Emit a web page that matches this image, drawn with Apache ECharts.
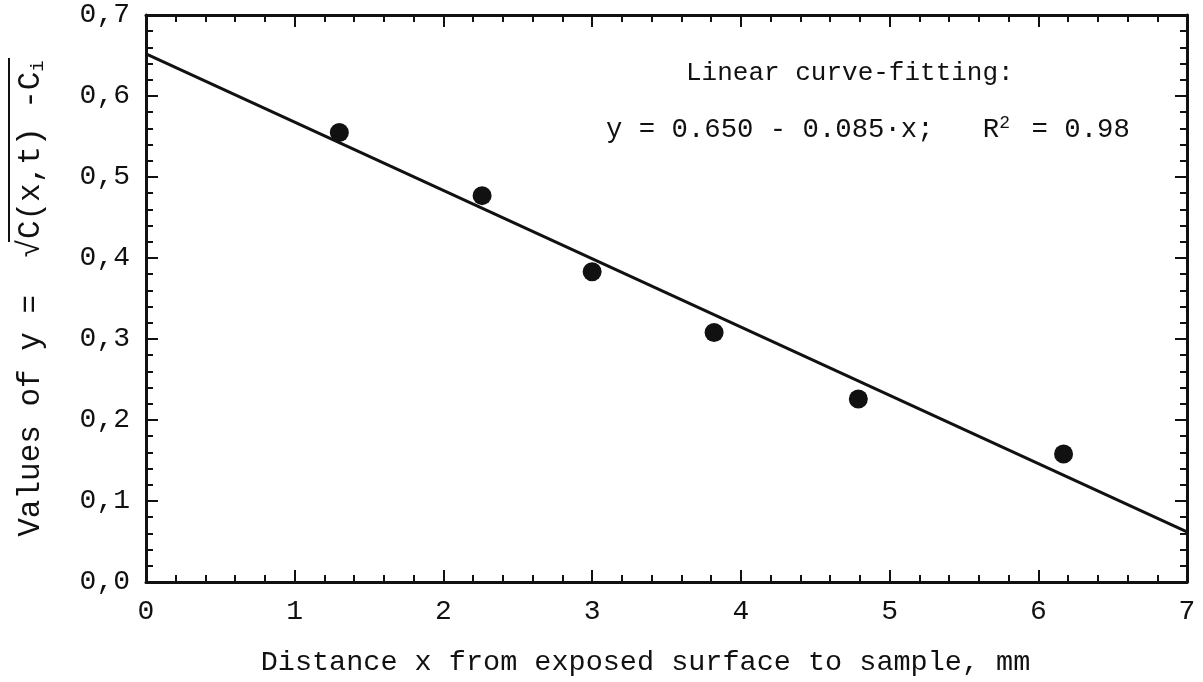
<!DOCTYPE html>
<html>
<head>
<meta charset="utf-8">
<script src="https://cdn.jsdelivr.net/npm/echarts@6/dist/echarts.min.js"></script>
<style>
html, body { margin: 0; padding: 0; background: #fff; }
#chart { width: 1203px; height: 682px; }
</style>
</head>
<body>
<div id="chart"></div>
<script>
// measured points
var pointX = [1.30, 2.26, 3.00, 3.82, 4.79, 6.17];
var pointY = [0.555, 0.477, 0.383, 0.308, 0.226, 0.158];
// fitted line ends
var fitX = [0, 7];
var fitY = [0.652, 0.062];
var yTicks = ['0,0', '0,1', '0,2', '0,3', '0,4', '0,5', '0,6', '0,7'];

var FONT = '"Liberation Mono", "DejaVu Sans Mono", monospace';
var INK = '#111';

function pairs(xs, ys) {
    var out = [];
    for (var i = 0; i < xs.length; i++) out.push([xs[i], ys[i]]);
    return out;
}

var tickStyle = { show: true, inside: true, length: 12, lineStyle: { color: INK, width: 2 } };
var minorStyle = { show: true, splitNumber: 5, length: 7, lineStyle: { color: INK, width: 2 } };
var lineStyle = { show: true, onZero: false, lineStyle: { color: INK, width: 3 } };

chart = echarts.init(document.getElementById('chart'));
chart.setOption({
    animation: false,
    backgroundColor: '#fff',
    grid: { left: 146, right: 16, top: 15, bottom: 100 },
    xAxis: [
        {
            type: 'value', min: 0, max: 7, interval: 1,
            axisLine: lineStyle, axisTick: tickStyle, minorTick: minorStyle,
            splitLine: { show: false },
            axisLabel: { color: INK, fontFamily: FONT, fontSize: 28, margin: 16 },
            name: 'Distance x from exposed surface to sample, mm',
            nameLocation: 'middle', nameGap: 66,
            nameTextStyle: { color: INK, fontFamily: FONT, fontSize: 28.5, padding: [0, 42, 0, 0] }
        },
        {
            type: 'value', min: 0, max: 7, interval: 1, position: 'top',
            axisLine: lineStyle, axisTick: tickStyle, minorTick: minorStyle,
            splitLine: { show: false }, axisLabel: { show: false }
        }
    ],
    yAxis: [
        {
            type: 'value', min: 0, max: 0.7, interval: 0.1,
            axisLine: lineStyle, axisTick: tickStyle, minorTick: minorStyle,
            splitLine: { show: false },
            axisLabel: {
                color: INK, fontFamily: FONT, fontSize: 28, margin: 16,
                formatter: function (v) { return yTicks[Math.round(v * 10)]; }
            },
            name: '{t|Values of y =  √C(x,t) -C}{sub|i}',
            nameLocation: 'middle', nameGap: 99, nameRotate: 90,
            nameTextStyle: {
                rich: {
                    t: { color: INK, fontFamily: FONT, fontSize: 31 },
                    sub: { color: INK, fontFamily: FONT, fontSize: 19, padding: [14, 0, 0, 0] }
                }
            }
        },
        {
            type: 'value', min: 0, max: 0.7, interval: 0.1, position: 'right',
            axisLine: lineStyle, axisTick: tickStyle, minorTick: minorStyle,
            splitLine: { show: false }, axisLabel: { show: false }
        }
    ],
    graphic: [
        {
            type: 'text', left: 686, top: 60,
            style: { text: 'Linear curve-fitting:', fill: INK, font: '26px ' + FONT }
        },
        {
            type: 'text', left: 606, top: 114,
            style: {
                text: '{t|y = 0.650 - 0.085·x;   R}{sup|2}{t| = 0.98}',
                rich: {
                    t: { fill: INK, font: '27.3px ' + FONT },
                    sup: { fill: INK, font: '18px ' + FONT, width: 16, padding: [0, 0, 14, 0] }
                }
            }
        },
        {
            type: 'line',
            shape: { x1: 9, y1: 58, x2: 9, y2: 242 },
            style: { stroke: INK, lineWidth: 2 }
        }
    ],
    series: [
        {
            type: 'line',
            data: pairs(fitX, fitY),
            symbol: 'none',
            lineStyle: { color: INK, width: 3 },
            z: 2
        },
        {
            type: 'scatter',
            data: pairs(pointX, pointY),
            symbol: 'circle', symbolSize: 19,
            itemStyle: { color: INK, opacity: 1 },
            z: 3
        }
    ]
});
</script>
</body>
</html>
